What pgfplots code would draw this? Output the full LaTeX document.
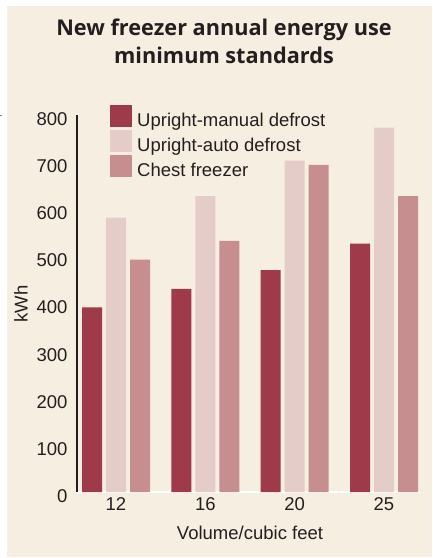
\documentclass[border=0pt]{standalone}
\usepackage{pgfplots}
\pgfplotsset{compat=1.18}
\usepackage{fontspec}
\setmainfont{Liberation Sans}
\newfontfamily\titlefont{Open Sans}
\definecolor{bg}{HTML}{F6EEE0}
\definecolor{cdark}{HTML}{9E3A4A}
\definecolor{clight}{HTML}{E4CCC8}
\definecolor{cchest}{HTML}{C78E8F}
\definecolor{ctext}{HTML}{231F20}
\begin{document}
\begin{tikzpicture}[x=1pt,y=1pt]
\useasboundingbox (0,0) rectangle (432,-558);
\fill[white] (0,0) rectangle (432,-558);
\fill[bg] (7,-6) rectangle (432,-557);
\fill[gray] (0,-114.5) rectangle (1.5,-116);
\node[font=\titlefont\bfseries\fontsize{21.7}{28}\selectfont, text=ctext, anchor=base] at (224,-35) {New freezer annual energy use};
\node[font=\titlefont\bfseries\fontsize{21.7}{28}\selectfont, text=ctext, anchor=base] at (224,-63) {minimum standards};
\begin{axis}[
  at={(77pt,-492pt)}, anchor=south west,
  scale only axis, width=343pt, height=377pt,
  xmin=-0.4366, xmax=3.403, ymin=0, ymax=800,
  ybar=4pt, bar width=20pt,
  axis lines=left, axis line style={-},
  x axis line style={white, line width=2pt},
  y axis line style={ctext, line width=2.2pt},
  xtick={0,1,2,3}, xticklabels={12,16,20,25},
  ytick={0,100,...,800},
  major tick length=0pt,
  /pgf/number format/assume math mode=true,
  tick label style={font=\fontsize{18.5}{20}\selectfont, text=ctext},
  yticklabel style={xshift=-6pt, yshift=-4pt},
  xticklabel style={yshift=-2pt},
  legend style={at={(0.0875,1.0315)}, anchor=north west, draw=none, fill=none,
     font=\fontsize{18.5}{20}\selectfont, text=ctext, row sep=0pt,
     nodes={inner sep=0pt, text height=14pt, text depth=4pt}},
  legend cell align=left,
  /tikz/every even column/.append style={column sep=0pt},
  legend image code/.code={\fill[#1, draw=none] (0pt,-6pt) rectangle (22pt,16pt);},
  clip=false,
]
\addplot[fill=cdark, draw=none] coordinates {(0,392) (1,431) (2,471) (3,527)};
\addplot[fill=clight, draw=none] coordinates {(0,582) (1,628) (2,703) (3,773)};
\addplot[fill=cchest, draw=none] coordinates {(0,493) (1,533) (2,694) (3,628)};
\legend{\hspace{5pt}Upright-manual defrost,\hspace{5pt}Upright-auto defrost,\hspace{5pt}Chest freezer}
\end{axis}
\node[font=\fontsize{18.5}{20}\selectfont, text=ctext] at (250,-533) {Volume/cubic feet};
\node[font=\fontsize{18.5}{20}\selectfont, text=ctext, rotate=90] at (21,-304) {kWh};
\end{tikzpicture}
\end{document}
